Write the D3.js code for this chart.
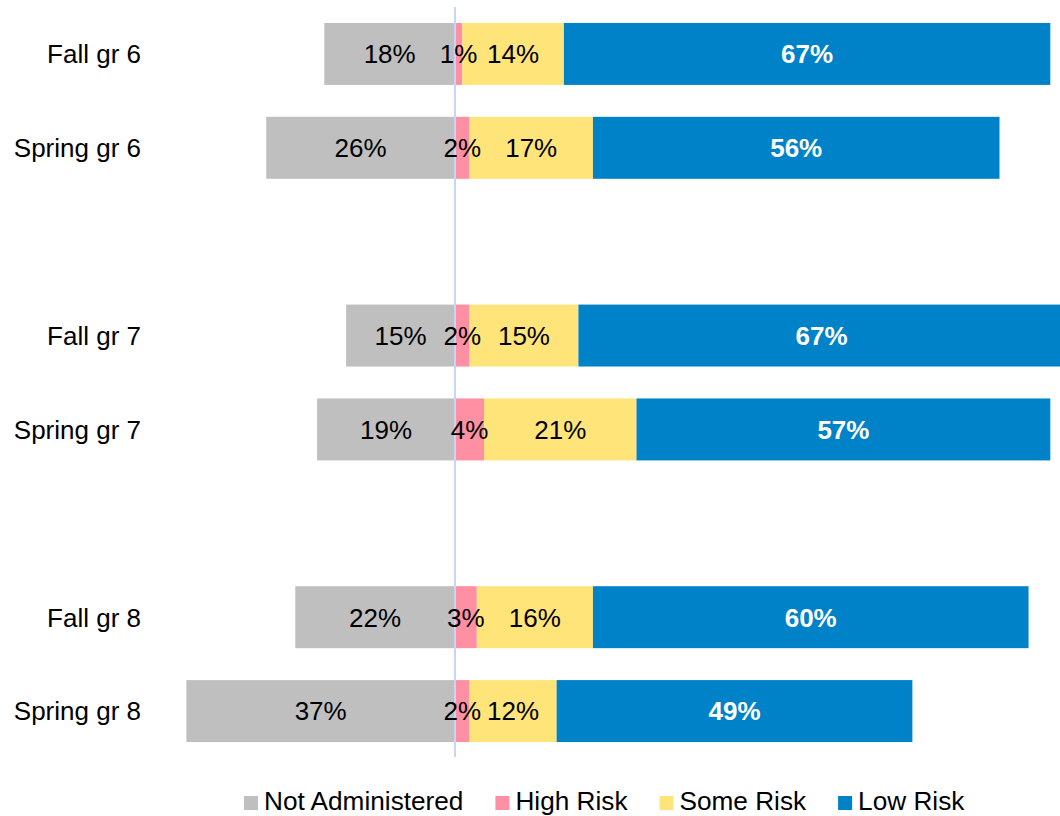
<!DOCTYPE html>
<html>
<head>
<meta charset="utf-8">
<script src="https://cdn.jsdelivr.net/npm/d3@7/dist/d3.min.js"></script>
<style>
  html, body { margin: 0; padding: 0; background: #fff; }
  svg { display: block; font-family: "Liberation Sans", Arial, sans-serif; }
</style>
</head>
<body>
<svg id="chart" width="1060" height="816"></svg>
<script>
// Row labels; null entries are blank spacer rows between grades
const categories = ["Fall gr 6", "Spring gr 6", null, "Fall gr 7", "Spring gr 7", null, "Fall gr 8", "Spring gr 8"];

// Percent of students in each group, per row (spacers are null)
const notAdministered = [18, 26, null, 15, 19, null, 22, 37];
const highRisk        = [1,  2,  null, 2,  4,  null, 3,  2];
const someRisk        = [14, 17, null, 15, 21, null, 16, 12];
const lowRisk         = [67, 56, null, 67, 57, null, 60, 49];

const seriesNames = ["Not Administered", "High Risk", "Some Risk", "Low Risk"];
const seriesColors = ["#bfbfbf", "#ff8fa2", "#ffe47a", "#0082c8"];

const svg = d3.select("#chart");

// Diverging scale: Not Administered runs left of zero, the risk groups run right
const pxPerPct = 7.26;
const zeroX = 455;
const x = d3.scaleLinear()
  .domain([-40, 85])
  .range([zeroX - 40 * pxPerPct, zeroX + 85 * pxPerPct]);

const y = d3.scaleBand()
  .domain(d3.range(categories.length))
  .range([7, 758])
  .paddingInner(0.34)
  .paddingOuter(0.17);

// Build segments for each row
const rows = categories.map((c, i) => ({ i, name: c })).filter(r => r.name !== null);
const segments = [];
rows.forEach(r => {
  const i = r.i;
  const na = notAdministered[i], hr = highRisk[i], sr = someRisk[i], lr = lowRisk[i];
  segments.push({ row: i, s: 0, x0: -na, x1: 0, v: na });
  segments.push({ row: i, s: 1, x0: 0, x1: hr, v: hr });
  segments.push({ row: i, s: 2, x0: hr, x1: hr + sr, v: sr });
  segments.push({ row: i, s: 3, x0: hr + sr, x1: hr + sr + lr, v: lr });
});

const plot = svg.append("g");

plot.selectAll("rect.seg")
  .data(segments)
  .join("rect")
  .attr("class", "seg")
  .attr("x", d => x(d.x0))
  .attr("width", d => x(d.x1) - x(d.x0))
  .attr("y", d => y(d.row))
  .attr("height", y.bandwidth())
  .attr("fill", d => seriesColors[d.s]);

// Zero line, over the bars and under the labels
svg.append("line")
  .attr("x1", x(0)).attr("x2", x(0))
  .attr("y1", 7).attr("y2", 757)
  .attr("stroke", "#c8d5f5")
  .attr("stroke-width", 2);

// Value labels centred in each segment
const fontSize = 26;
const capOffset = fontSize * 0.36;
svg.selectAll("text.val")
  .data(segments)
  .join("text")
  .attr("class", "val")
  .attr("x", d => (x(d.x0) + x(d.x1)) / 2)
  .attr("y", d => y(d.row) + y.bandwidth() / 2 + capOffset)
  .attr("text-anchor", "middle")
  .attr("font-size", fontSize)
  .attr("font-weight", d => d.s === 3 ? "bold" : "normal")
  .attr("fill", d => d.s === 3 ? "#ffffff" : "#000000")
  .text(d => d.v + "%");

// Category labels
svg.selectAll("text.cat")
  .data(rows)
  .join("text")
  .attr("class", "cat")
  .attr("x", 141)
  .attr("y", d => y(d.i) + y.bandwidth() / 2 + capOffset)
  .attr("text-anchor", "end")
  .attr("font-size", fontSize)
  .attr("fill", "#000")
  .text(d => d.name);

// Legend
const legend = svg.append("g").attr("transform", "translate(244, 0)");
let lx = 0;
seriesNames.forEach((name, k) => {
  const g = legend.append("g").attr("transform", `translate(${lx},0)`);
  g.append("rect")
    .attr("x", 0).attr("y", 796)
    .attr("width", 14).attr("height", 14)
    .attr("fill", seriesColors[k]);
  const t = g.append("text")
    .attr("x", 20).attr("y", 810)
    .attr("font-size", 26.2)
    .attr("fill", "#000")
    .text(name);
  lx += 20 + t.node().getComputedTextLength() + 32;
});
</script>
</body>
</html>
